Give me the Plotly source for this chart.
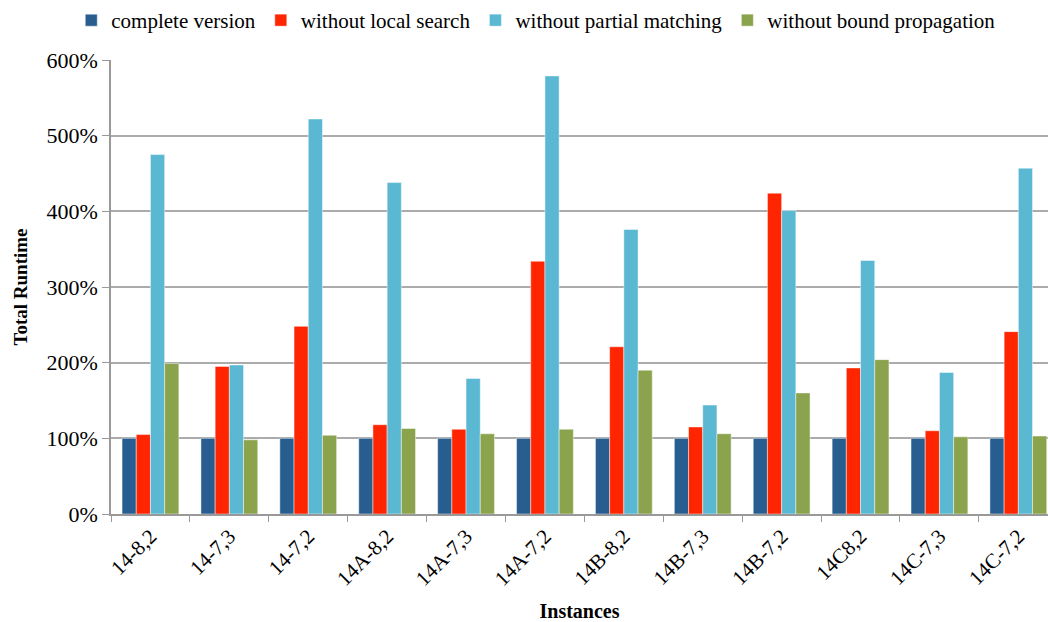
import plotly.graph_objects as go

instances = ["14-8,2", "14-7,3", "14-7,2", "14A-8,2", "14A-7,3", "14A-7,2",
             "14B-8,2", "14B-7,3", "14B-7,2", "14C8,2", "14C-7,3", "14C-7,2"]

complete_version = [100, 100, 100, 100, 100, 100, 100, 100, 100, 100, 100, 100]
without_local_search = [105, 195, 248, 118, 112, 334, 221, 115, 424, 193, 110, 241]
without_partial_matching = [475, 197, 522, 438, 179, 579, 376, 144, 401, 335, 187, 457]
without_bound_propagation = [199, 98, 104, 113, 106, 112, 190, 106, 160, 204, 102, 103]

series = [
    ("complete version", complete_version, "#285E8F"),
    ("without local search", without_local_search, "#FF2500"),
    ("without partial matching", without_partial_matching, "#5BB8D3"),
    ("without bound propagation", without_bound_propagation, "#8AA34C"),
]

FONT = "Liberation Serif"

fig = go.Figure()
for name, vals, color in series:
    fig.add_trace(go.Bar(
        x=instances, y=vals, name=name,
        marker=dict(color=color, line=dict(color="rgba(255,255,255,0.45)", width=1)),
    ))

fig.update_layout(
    width=1048, height=622,
    margin=dict(l=111, r=0, t=60, b=108),
    plot_bgcolor="white", paper_bgcolor="white",
    barmode="group", bargap=0.28, bargroupgap=0,
    font=dict(family=FONT, size=20, color="black"),
    showlegend=True,
    legend=dict(
        orientation="h",
        xref="container", x=0.068, xanchor="left",
        yref="container", y=1.0, yanchor="top",
        font=dict(family=FONT, size=21),
        itemwidth=30, tracegroupgap=0,
    ),
    xaxis=dict(
        range=[-0.5, 11.376],
        tickangle=-45,
        tickson="boundaries", ticks="outside", ticklen=6, tickcolor="#999999",
        showline=True, linecolor="#999999", linewidth=1.5,
        showgrid=False,
        tickfont=dict(family=FONT, size=21),
        title=dict(text="<b>Instances</b>", font=dict(family=FONT, size=20), standoff=16),
    ),
    yaxis=dict(
        range=[0, 600], dtick=100, ticksuffix="%",
        ticks="outside", ticklen=7, tickcolor="#999999",
        showline=True, linecolor="#999999", linewidth=1.5,
        showgrid=True, gridcolor="#ABABAB", gridwidth=1.5,
        zeroline=False,
        tickfont=dict(family=FONT, size=22),
        title=dict(text="<b>Total Runtime</b>", font=dict(family=FONT, size=19), standoff=14),
    ),
)

fig.write_html("out.html")
